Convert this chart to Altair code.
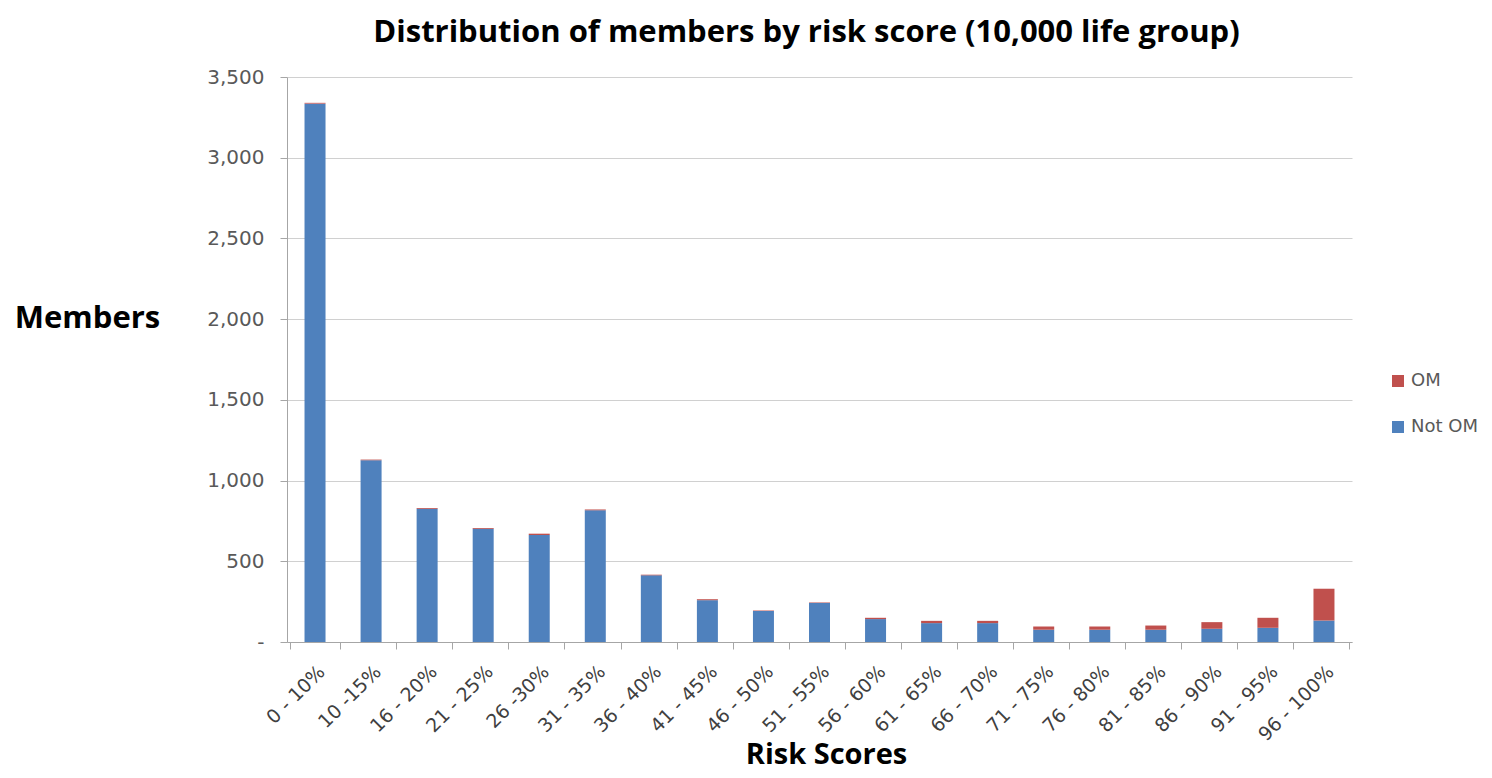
import altair as alt
import pandas as pd

categories = ["0 - 10%", "10 -15%", "16 - 20%", "21 - 25%", "26 -30%", "31 - 35%",
              "36 - 40%", "41 - 45%", "46 - 50%", "51 - 55%", "56 - 60%", "61 - 65%",
              "66 - 70%", "71 - 75%", "76 - 80%", "81 - 85%", "86 - 90%", "91 - 95%",
              "96 - 100%"]
not_om = [3335, 1126, 825, 701, 663, 816, 413, 259, 192, 242, 142, 117, 117, 76, 76, 76, 82, 88, 133]
om = [5, 4, 5, 5, 8, 5, 4, 6, 3, 3, 8, 14, 14, 20, 20, 26, 41, 62, 197]
series_names = ["OM", "Not OM"]
series_colors = ["#c0504d", "#4f81bd"]
y_ticks = [0, 500, 1000, 1500, 2000, 2500, 3000, 3500]

rows = []
for c, n, o in zip(categories, not_om, om):
    rows.append({"cat": c, "series": "Not OM", "value": n, "ord": 0})
    rows.append({"cat": c, "series": "OM", "value": o, "ord": 1})
df = pd.DataFrame(rows)

LFONT = "DejaVu Sans"
TFONT = "Open Sans"

chart = alt.Chart(df).mark_bar(size=21).encode(
    x=alt.X("cat:N", sort=categories,
            axis=alt.Axis(title="Risk Scores", labelAngle=-45, labelAlign="right",
                          labelBaseline="top", labelFontSize=19, labelColor="#404040",
                          labelFont=LFONT, labelPadding=13, tickBand="extent",
                          tickSize=7, tickColor="#a6a6a6", domainColor="#a6a6a6",
                          titleFont=TFONT, titleFontSize=29, titleFontWeight="bold",
                          titleColor="black", titleX=539, titleY=112,
                          titleAlign="center", titleBaseline="middle", grid=False)),
    y=alt.Y("value:Q", stack="zero",
            scale=alt.Scale(domain=[0, 3500], nice=False),
            axis=alt.Axis(title="Members", values=y_ticks,
                          labelExpr="datum.value == 0 ? '-' : format(datum.value, ',')",
                          labelFontSize=20, labelColor="#595959", labelFont=LFONT,
                          labelPadding=16, tickSize=7, tickColor="#a6a6a6",
                          domainColor="#a6a6a6", gridColor="#d0d0d0",
                          titleFont=TFONT, titleFontSize=31, titleFontWeight="bold",
                          titleColor="black", titleAngle=0, titleX=-200, titleY=241,
                          titleAlign="center", titleBaseline="middle")),
    color=alt.Color("series:N",
                    scale=alt.Scale(domain=series_names, range=series_colors),
                    legend=alt.Legend(title=None, orient="none", legendX=1102, legendY=295,
                                      symbolType="square", symbolSize=144,
                                      symbolStrokeWidth=0, labelFontSize=18,
                                      labelColor="#595959", labelFont=LFONT,
                                      rowPadding=28, labelOffset=4)),
    order=alt.Order("ord:Q", sort="ascending"),
).properties(
    width=1065, height=565,
    title=alt.TitleParams("Distribution of members by risk score (10,000 life group)",
                          font=TFONT, fontSize=31, fontWeight="bold", color="black",
                          anchor="middle", dx=-13, offset=18),
    autosize=alt.AutoSizeParams(type="none"),
    padding={"left": 279, "top": 69, "right": 132, "bottom": 128},
).configure_view(stroke=None)

chart.save("out.html", embed_options={"renderer": "svg", "actions": False})
